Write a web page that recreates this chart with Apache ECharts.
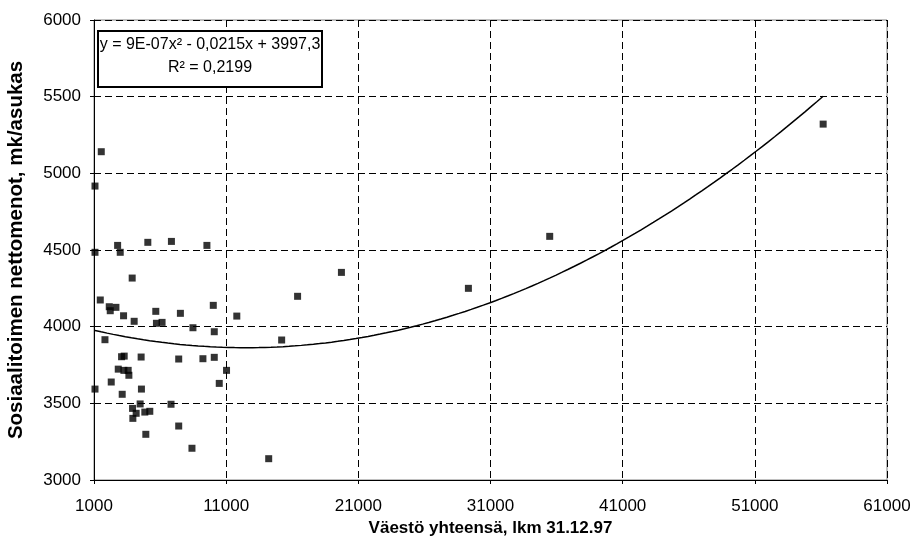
<!DOCTYPE html>
<html>
<head>
<meta charset="utf-8">
<script src="https://cdn.jsdelivr.net/npm/echarts@6/dist/echarts.min.js"></script>
<style>
  html, body { margin: 0; padding: 0; background: #fff; }
  #chart { width: 915px; height: 548px; }
</style>
</head>
<body>
<div id="chart"></div>
<script>
// Population (x) of each municipality
const populations = [
  1550, 1075, 1075, 2787, 2985, 5072, 6858, 9543, 3889,
  1475, 2154, 2659, 2229, 3237, 5675, 7537, 10025, 11805,
  4039, 5725, 6150, 8487, 10100, 1829, 3086, 3285, 4566,
  7409, 9241, 10100, 11028, 2835, 3262, 3586, 3639, 2304,
  1075, 4589, 10477, 3134, 4491, 6828, 3918, 4190, 4845,
  5222, 3940, 7409, 4921, 8412,
  19721, 16404, 15198, 14218, 29328, 35480, 56170
];
// Net social welfare spending per inhabitant (y)
const spending = [
  5141, 4917, 4485, 4530, 4485, 4550, 4556, 4530, 4317,
  4174, 4130, 4126, 4104, 4071, 4100, 4087, 4139, 4069,
  4035, 4022, 4028, 3993, 3967, 3915, 3804, 3808, 3802,
  3789, 3791, 3800, 3715, 3723, 3715, 3715, 3683, 3639,
  3593, 3593, 3630, 3559, 3496, 3494, 3467, 3435, 3443,
  3448, 3402, 3352, 3298, 3207,
  4354, 4198, 3913, 3139, 4250, 4589, 5321
];

// Polynomial trend line y = a*x^2 + b*x + c (a is shown rounded as 9E-07)
const trendA = 8.6e-7;
const trendB = -0.0215;
const trendC = 3997.3;
const trendLabel = ['y = 9E-07x² - 0,0215x + 3997,3', 'R² = 0,2199'];

// Axis ticks
const xTicks = [1000, 11000, 21000, 31000, 41000, 51000, 61000];
const yTicks = [3000, 3500, 4000, 4500, 5000, 5500, 6000];

const xName = 'Väestö yhteensä, lkm 31.12.97';
const yName = 'Sosiaalitoimen nettomenot, mk/asukas';

const points = populations.map((x, i) => [x, spending[i]]);

const xMin = Math.min(...populations);
const xMax = Math.max(...populations);
const trend = [];
const steps = 120;
for (let i = 0; i <= steps; i++) {
  const x = xMin + (xMax - xMin) * i / steps;
  trend.push([x, trendA * x * x + trendB * x + trendC]);
}

const font = '"Liberation Sans", Arial, sans-serif';
const plain = v => String(v);
const chart = echarts.init(document.getElementById('chart'));

chart.setOption({
  animation: false,
  backgroundColor: '#ffffff',
  grid: {
    left: 94, top: 20, right: 28, bottom: 68,
    containLabel: false,
    outerBoundsMode: 'none',
    show: true, borderColor: '#808080', borderWidth: 1,
    backgroundColor: '#ffffff'
  },
  xAxis: {
    type: 'value',
    min: xTicks[0], max: xTicks[xTicks.length - 1],
    interval: xTicks[1] - xTicks[0],
    name: xName, nameLocation: 'middle', nameGap: 36,
    nameTextStyle: { fontFamily: font, fontSize: 17, fontWeight: 'bold', color: '#000' },
    axisLine: { show: true, lineStyle: { color: '#000', width: 1 } },
    axisTick: { show: true, length: 4, lineStyle: { color: '#000' } },
    axisLabel: { fontFamily: font, fontSize: 17, color: '#000', margin: 18, formatter: plain },
    splitLine: { show: true, lineStyle: { color: '#000', type: [7, 4], width: 1 } }
  },
  yAxis: {
    type: 'value',
    min: yTicks[0], max: yTicks[yTicks.length - 1],
    interval: yTicks[1] - yTicks[0],
    name: yName, nameLocation: 'middle', nameGap: 67, nameRotate: 90,
    nameTextStyle: { fontFamily: font, fontSize: 20.5, fontWeight: 'bold', color: '#000' },
    axisLine: { show: true, lineStyle: { color: '#000', width: 1 } },
    axisTick: { show: true, length: 4, lineStyle: { color: '#000' } },
    axisLabel: { fontFamily: font, fontSize: 17, color: '#000', margin: 13, formatter: plain },
    splitLine: { show: true, lineStyle: { color: '#000', type: [7, 4], width: 1 } }
  },
  series: [
    {
      type: 'line',
      data: trend,
      showSymbol: false,
      smooth: false,
      lineStyle: { color: '#000', width: 1.5 },
      z: 2
    },
    {
      type: 'scatter',
      data: points,
      symbol: 'rect',
      symbolSize: 7,
      itemStyle: { color: '#000' },
      z: 3
    }
  ],
  graphic: [
    {
      type: 'rect',
      shape: { x: 98, y: 31, width: 224, height: 56 },
      style: { fill: '#fff', stroke: '#000', lineWidth: 2 },
      z: 10
    },
    {
      type: 'text',
      x: 210, y: 45,
      style: {
        text: trendLabel[0], fontFamily: font, fontSize: 16, fill: '#000',
        align: 'center', verticalAlign: 'middle'
      },
      z: 11
    },
    {
      type: 'text',
      x: 210, y: 68,
      style: {
        text: trendLabel[1], fontFamily: font, fontSize: 16, fill: '#000',
        align: 'center', verticalAlign: 'middle'
      },
      z: 11
    }
  ]
});
</script>
</body>
</html>
